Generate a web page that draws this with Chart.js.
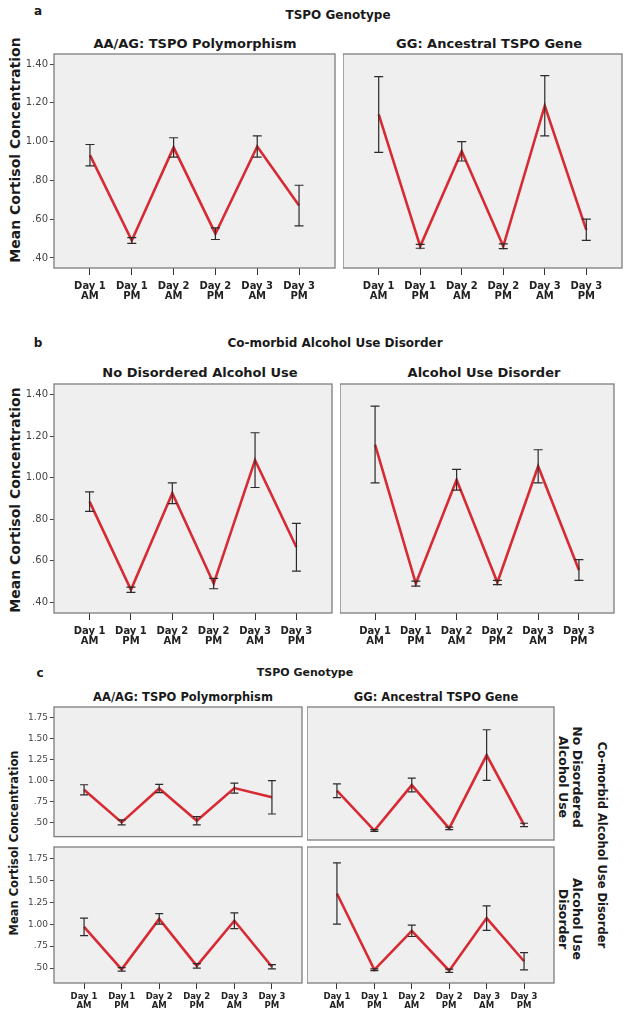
<!DOCTYPE html>
<html>
<head>
<meta charset="utf-8">
<title>Cortisol by TSPO genotype and alcohol use</title>
<script src="https://cdn.jsdelivr.net/npm/chart.js@4.4.1/dist/chart.umd.min.js"></script>
<style>
  body { margin: 0; background: #fff; font-family: "DejaVu Sans", sans-serif; color: #1a1a1a; }
  #page { position: relative; width: 628px; height: 1020px; overflow: hidden; }
  #page canvas { position: absolute; }
  .t { position: absolute; white-space: nowrap; font-weight: bold; transform: translate(-50%, -50%); }
  .up { position: absolute; white-space: nowrap; font-weight: bold; transform: translate(-50%, -50%) rotate(-90deg); }
  .down { position: absolute; white-space: nowrap; font-weight: bold; text-align: center; transform: translate(-50%, -50%) rotate(90deg); }
  .eb { position: absolute; white-space: nowrap; color: #333; transform: translateY(-50%); }
</style>
</head>
<body>
<div id="page">
  <!-- panel a -->
  <div class="t" style="left:38px;top:11px;font-size:12px">a</div>
  <div class="t" style="left:338px;top:15px;font-size:12px">TSPO Genotype</div>
  <div class="t" style="left:195px;top:43px;font-size:13px">AA/AG: TSPO Polymorphism</div>
  <div class="t" style="left:489px;top:43px;font-size:13px">GG: Ancestral TSPO Gene</div>
  <div class="up" style="left:15px;top:150px;font-size:14px">Mean Cortisol Concentration</div>
  <div class="eb" style="left:68px;top:66px;font-size:10.5px">Error bars: +/− 1 SE</div>

  <!-- panel b -->
  <div class="t" style="left:38px;top:343px;font-size:12px">b</div>
  <div class="t" style="left:335px;top:343px;font-size:12px">Co-morbid Alcohol Use Disorder</div>
  <div class="t" style="left:200px;top:372px;font-size:13px">No Disordered Alcohol Use</div>
  <div class="t" style="left:484px;top:372px;font-size:13px">Alcohol Use Disorder</div>
  <div class="up" style="left:15px;top:500px;font-size:14px">Mean Cortisol Concentration</div>
  <div class="eb" style="left:63px;top:398px;font-size:10.5px">Error bars: +/− 1 SE</div>

  <!-- panel c -->
  <div class="t" style="left:40px;top:673px;font-size:12px">c</div>
  <div class="t" style="left:305px;top:672px;font-size:11px">TSPO Genotype</div>
  <div class="t" style="left:183px;top:697px;font-size:11.5px">AA/AG: TSPO Polymorphism</div>
  <div class="t" style="left:436px;top:697px;font-size:11.5px">GG: Ancestral TSPO Gene</div>
  <div class="up" style="left:14px;top:843px;font-size:11.5px">Mean Cortisol Concentration</div>
  <div class="eb" style="left:73px;top:719px;font-size:9.5px">Error bars: +/− 1 SE</div>
  <div class="down" style="left:570px;top:777px;font-size:12.5px;line-height:14px">No Disordered<br>Alcohol Use</div>
  <div class="down" style="left:570px;top:919px;font-size:12.5px;line-height:14px">Alcohol Use<br>Disorder</div>
  <div class="down" style="left:602px;top:845px;font-size:11.5px">Co-morbid Alcohol Use Disorder</div>
</div>

<script>
// time points on the x axis
const timeLabels = [['Day 1', 'AM'], ['Day 1', 'PM'], ['Day 2', 'AM'], ['Day 2', 'PM'], ['Day 3', 'AM'], ['Day 3', 'PM']];

// tick labels for panels a/b and panel c
const abTicks = [0.4, 0.6, 0.8, 1.0, 1.2, 1.4];
const abTickLabels = ['.40', '.60', '.80', '1.00', '1.20', '1.40'];
const cTicks = [0.5, 0.75, 1.0, 1.25, 1.5, 1.75];
const cTickLabels = ['.50', '.75', '1.00', '1.25', '1.50', '1.75'];

// panel a: by TSPO genotype
const polyMean = [0.93, 0.49, 0.97, 0.525, 0.975, 0.67];
const polySE = [0.055, 0.015, 0.05, 0.03, 0.055, 0.105];
const ancMean = [1.14, 0.46, 0.95, 0.46, 1.185, 0.545];
const ancSE = [0.195, 0.01, 0.05, 0.012, 0.155, 0.055];

// panel b: by alcohol use disorder
const noAudMean = [0.885, 0.46, 0.925, 0.49, 1.085, 0.665];
const noAudSE = [0.047, 0.013, 0.05, 0.025, 0.132, 0.115];
const audMean = [1.16, 0.49, 0.99, 0.495, 1.055, 0.555];
const audSE = [0.185, 0.012, 0.05, 0.01, 0.08, 0.05];

// panel c: genotype x alcohol use disorder
const polyNoAudMean = [0.89, 0.50, 0.905, 0.52, 0.91, 0.80];
const polyNoAudSE = [0.06, 0.03, 0.05, 0.05, 0.06, 0.20];
const ancNoAudMean = [0.905, 0.44, 0.97, 0.465, 1.32, 0.505];
const ancNoAudSE = [0.08, 0.01, 0.08, 0.015, 0.295, 0.02];
const polyAudMean = [0.97, 0.485, 1.06, 0.525, 1.04, 0.515];
const polyAudSE = [0.10, 0.02, 0.06, 0.025, 0.09, 0.025];
const ancAudMean = [1.35, 0.48, 0.925, 0.47, 1.07, 0.578];
const ancAudSE = [0.35, 0.01, 0.065, 0.018, 0.14, 0.098];

const FONT = '"DejaVu Sans", sans-serif';

// grey plot box, error bars on top of the line, and a border
const errorBars = {
    id: 'errorBars',
    beforeDraw(chart) {
        const a = chart.chartArea;
        chart.ctx.save();
        chart.ctx.fillStyle = '#efefef';
        chart.ctx.fillRect(a.left, a.top, a.right - a.left, a.bottom - a.top);
        chart.ctx.restore();
    },
    afterDatasetsDraw(chart, args, opts) {
        const ctx = chart.ctx;
        const x = chart.scales.x, y = chart.scales.y;
        const means = opts.mean;
        ctx.save();
        ctx.strokeStyle = '#2b2b2b';
        ctx.lineWidth = 1.2;
        means.forEach((m, i) => {
            const px = x.getPixelForValue(i);
            const hi = y.getPixelForValue(m + opts.se[i]);
            const lo = y.getPixelForValue(m - opts.se[i]);
            ctx.beginPath();
            ctx.moveTo(px, hi); ctx.lineTo(px, lo);
            ctx.moveTo(px - opts.cap, hi); ctx.lineTo(px + opts.cap, hi);
            ctx.moveTo(px - opts.cap, lo); ctx.lineTo(px + opts.cap, lo);
            ctx.stroke();
        });
        ctx.restore();
    },
    afterDraw(chart) {
        const a = chart.chartArea;
        chart.ctx.save();
        chart.ctx.strokeStyle = '#7d7d7d';
        chart.ctx.lineWidth = 1.3;
        chart.ctx.strokeRect(a.left, a.top, a.right - a.left, a.bottom - a.top);
        chart.ctx.restore();
    }
};

const abStyle = { ymin: 0.348, ymax: 1.452, yTicks: abTicks, yLabels: abTickLabels, yFont: 10,
                  xmin: -0.86, xmax: 5.86, xFont: 10, xTick: 7, xPad: 6, xh: 36, cap: 4.5 };
const cStyle = { ymin: 0.33, ymax: 1.88, yTicks: cTicks, yLabels: cTickLabels, yFont: 9,
                 xmin: -0.8, xmax: 5.8, xFont: 8.5, xTick: 6, xPad: 3, xh: 30, cap: 4 };

// box = [left, top, right, bottom] of the plot area on the page
const panels = [
    { box: [54, 54, 335, 268], mean: polyMean, se: polySE, yAxis: true, xAxis: true, s: abStyle },
    { box: [343, 54, 622, 268], mean: ancMean, se: ancSE, yAxis: false, xAxis: true, s: abStyle },
    { box: [54, 384, 332, 613], mean: noAudMean, se: noAudSE, yAxis: true, xAxis: true, s: abStyle },
    { box: [340, 384, 614, 613], mean: audMean, se: audSE, yAxis: false, xAxis: true, s: abStyle },
    { box: [54, 707, 302, 842], mean: polyNoAudMean, se: polyNoAudSE, yAxis: true, xAxis: false, s: cStyle },
    { box: [307, 707, 554, 842], mean: ancNoAudMean, se: ancNoAudSE, yAxis: false, xAxis: false, s: cStyle },
    { box: [54, 847, 302, 983], mean: polyAudMean, se: polyAudSE, yAxis: true, xAxis: true, s: cStyle },
    { box: [307, 847, 554, 983], mean: ancAudMean, se: ancAudSE, yAxis: false, xAxis: true, s: cStyle }
];

const page = document.getElementById('page');

panels.forEach((p) => {
    const s = p.s;
    const yw = p.yAxis ? 54 : 0;
    const xh = p.xAxis ? s.xh : 2;
    const pt = 10, pr = 4;
    const canvas = document.createElement('canvas');
    canvas.width = p.box[2] - p.box[0] + yw + pr;
    canvas.height = p.box[3] - p.box[1] + pt + xh;
    canvas.style.left = (p.box[0] - yw) + 'px';
    canvas.style.top = (p.box[1] - pt) + 'px';
    page.appendChild(canvas);

    new Chart(canvas.getContext('2d'), {
        type: 'line',
        data: {
            datasets: [{
                data: p.mean.map((v, i) => ({ x: i, y: v })),
                borderColor: '#d82a33',
                borderWidth: 2.6,
                pointRadius: 0,
                tension: 0
            }]
        },
        options: {
            responsive: false,
            animation: false,
            events: [],
            layout: { padding: { top: pt, right: pr, left: 0, bottom: p.xAxis ? 0 : 2 }, autoPadding: false },
            plugins: {
                legend: { display: false },
                tooltip: { enabled: false },
                errorBars: { mean: p.mean, se: p.se, cap: s.cap }
            },
            scales: {
                x: {
                    type: 'linear',
                    min: s.xmin,
                    max: s.xmax,
                    display: p.xAxis,
                    afterBuildTicks: (sc) => { sc.ticks = timeLabels.map((l, i) => ({ value: i })); },
                    afterFit: (sc) => { sc.height = xh; },
                    grid: { drawOnChartArea: false, drawTicks: true, tickLength: s.xTick, color: '#333', lineWidth: 1 },
                    border: { display: false },
                    ticks: {
                        autoSkip: false,
                        maxRotation: 0,
                        padding: s.xPad,
                        color: '#222',
                        font: { family: FONT, size: s.xFont, weight: 'bold', lineHeight: 1.05 },
                        callback: (v) => timeLabels[v]
                    }
                },
                y: {
                    type: 'linear',
                    min: s.ymin,
                    max: s.ymax,
                    display: p.yAxis,
                    afterBuildTicks: (sc) => { sc.ticks = s.yTicks.map((v) => ({ value: v })); },
                    afterFit: (sc) => { sc.width = yw; },
                    grid: { drawOnChartArea: false, drawTicks: true, tickLength: 4, color: '#444', lineWidth: 1 },
                    border: { display: false },
                    ticks: {
                        padding: 2,
                        color: '#444',
                        font: { family: FONT, size: s.yFont },
                        callback: (v, i) => s.yLabels[i]
                    }
                }
            }
        },
        plugins: [errorBars]
    });
});
</script>
</body>
</html>
